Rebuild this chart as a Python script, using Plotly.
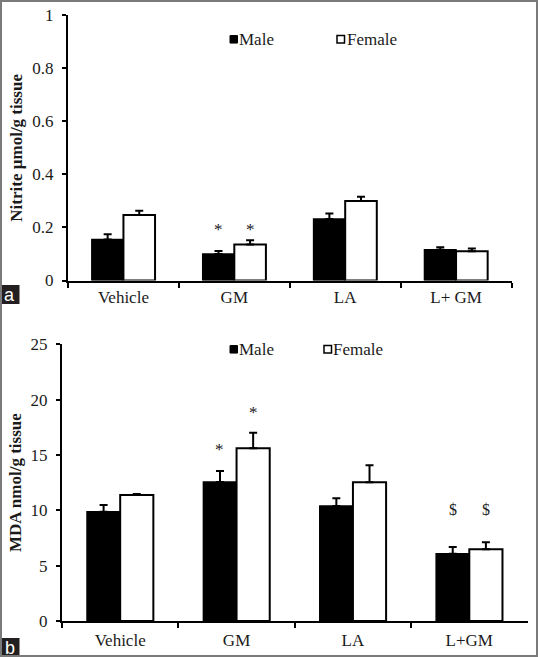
import plotly.graph_objects as go

W, H = 538, 657

# ---------------- data ----------------
categories_a = ["Vehicle", "GM", "LA", "L+ GM"]
categories_b = ["Vehicle", "GM", "LA", "L+GM"]

nitrite_male = [0.155, 0.100, 0.232, 0.116]
nitrite_male_err = [0.019, 0.011, 0.021, 0.009]
nitrite_female = [0.247, 0.136, 0.300, 0.110]
nitrite_female_err = [0.016, 0.016, 0.016, 0.011]

mda_male = [9.87, 12.56, 10.39, 6.08]
mda_male_err = [0.60, 1.00, 0.70, 0.60]
mda_female = [11.38, 15.60, 12.53, 6.48]
mda_female_err = [0.10, 1.40, 1.54, 0.63]

# significance marks and the heights at which they are printed
sig_a_male = ["", "*", "", ""]
sig_a_female = ["", "*", "", ""]
sig_a_male_y = [None, 0.203, None, None]
sig_a_female_y = [None, 0.203, None, None]

sig_b_male = ["", "*", "", "$"]
sig_b_female = ["", "*", "", "$"]
sig_b_male_y = [None, 15.8, None, 10.05]
sig_b_female_y = [None, 19.1, None, 10.05]

y_ticks_a = [0, 0.2, 0.4, 0.6, 0.8, 1]
y_ticks_b = [0, 5, 10, 15, 20, 25]

# ---------------- layout helpers ----------------
def px(x):
    return x / W


def py(y):
    return 1 - y / H


SERIF = "Liberation Serif"
TXT = "#1a1a1a"
BARGAP = 0.43

fig = go.Figure()


def add_bars(cats, male, male_err, female, female_err, xa, ya):
    fig.add_trace(go.Bar(
        x=cats, y=male, name="Male", xaxis=xa, yaxis=ya, showlegend=False,
        marker=dict(color="black", line=dict(color="black", width=1.5)),
        error_y=dict(type="data", array=male_err, arrayminus=[0] * len(male),
                     symmetric=False, color="black", thickness=2, width=4),
    ))
    fig.add_trace(go.Bar(
        x=cats, y=female, name="Female", xaxis=xa, yaxis=ya, showlegend=False,
        marker=dict(color="white", line=dict(color="black", width=2)),
        error_y=dict(type="data", array=female_err, arrayminus=[0] * len(female),
                     symmetric=False, color="black", thickness=2, width=4),
    ))


add_bars(categories_a, nitrite_male, nitrite_male_err,
         nitrite_female, nitrite_female_err, "x", "y")
add_bars(categories_b, mda_male, mda_male_err,
         mda_female, mda_female_err, "x2", "y2")

# domains (pixel based)
xa_dom = [px(68), px(511.5)]
ya_dom = [py(280.5), py(15.2)]
xb_dom = [px(62), px(527.5)]
yb_dom = [py(621), py(344.3)]

axis_common = dict(showline=True, linecolor="black", linewidth=2,
                   ticks="outside", tickcolor="black", tickwidth=2,
                   showgrid=False, zeroline=False, automargin=False,
                   tickfont=dict(family=SERIF, size=17, color=TXT))

fig.update_layout(
    template="none",
    width=W, height=H,
    margin=dict(l=0, r=0, t=0, b=0, pad=0),
    paper_bgcolor="white", plot_bgcolor="white",
    barmode="group", bargap=BARGAP, bargroupgap=0,
    showlegend=False,
    xaxis=dict(domain=xa_dom, anchor="y", tickson="boundaries", ticklen=5,
               type="category", ticklabelstandoff=0, **axis_common),
    yaxis=dict(domain=ya_dom, anchor="x", range=[0, 1], tickvals=y_ticks_a,
               ticklen=4, ticklabelstandoff=5,
               title=dict(text="<b>Nitrite µmol/g tissue</b>", standoff=5,
                          font=dict(family=SERIF, size=17, color=TXT)),
               **axis_common),
    xaxis2=dict(domain=xb_dom, anchor="y2", tickson="boundaries", ticklen=5,
                type="category", ticklabelstandoff=3, **axis_common),
    yaxis2=dict(domain=yb_dom, anchor="x2", range=[0, 25], tickvals=y_ticks_b,
                ticklen=4, ticklabelstandoff=5,
                title=dict(text="<b>MDA nmol/g tissue</b>", standoff=5,
                           font=dict(family=SERIF, size=17, color=TXT)),
                **axis_common),
)

annotations = []
shapes = []


def add_sig(cats, labels, ys, xref, yref, shift):
    for c, lab, yv in zip(cats, labels, ys):
        if lab and yv is not None:
            annotations.append(dict(
                x=c, y=yv, xref=xref, yref=yref, text=lab, showarrow=False,
                xshift=shift, yshift=-3 if lab == "*" else 0,
                font=dict(family=SERIF, size=17 if lab == "*" else 16, color=TXT),
                xanchor="center", yanchor="middle"))


bw_a = (xa_dom[1] - xa_dom[0]) * W / 4 * (1 - BARGAP) / 2
bw_b = (xb_dom[1] - xb_dom[0]) * W / 4 * (1 - BARGAP) / 2
add_sig(categories_a, sig_a_male, sig_a_male_y, "x", "y", -bw_a / 2)
add_sig(categories_a, sig_a_female, sig_a_female_y, "x", "y", bw_a / 2)
add_sig(categories_b, sig_b_male, sig_b_male_y, "x2", "y2", -bw_b / 2)
add_sig(categories_b, sig_b_female, sig_b_female_y, "x2", "y2", bw_b / 2)


# legends (key squares + text) for both panels
def add_legend(yc, male_sq_x, male_txt_x, fem_sq_x, fem_txt_x):
    s = 7.5
    shapes.append(dict(type="rect", xref="paper", yref="paper",
                       x0=px(male_sq_x), x1=px(male_sq_x + s),
                       y0=py(yc + s / 2), y1=py(yc - s / 2),
                       fillcolor="black", line=dict(color="black", width=1)))
    shapes.append(dict(type="rect", xref="paper", yref="paper",
                       x0=px(fem_sq_x), x1=px(fem_sq_x + s),
                       y0=py(yc + s / 2), y1=py(yc - s / 2),
                       fillcolor="white", line=dict(color="black", width=1.5)))
    annotations.append(dict(x=px(male_txt_x), y=py(yc), xref="paper", yref="paper",
                            text="Male", showarrow=False, xanchor="left",
                            yanchor="middle",
                            font=dict(family=SERIF, size=17, color=TXT)))
    annotations.append(dict(x=px(fem_txt_x), y=py(yc), xref="paper", yref="paper",
                            text="Female", showarrow=False, xanchor="left",
                            yanchor="middle",
                            font=dict(family=SERIF, size=17, color=TXT)))


add_legend(39.3, 230, 237, 337, 345)
add_legend(349.3, 230, 237, 324, 331)

# panel letters
for letter, top in (("a", 285), ("b", 638)):
    shapes.append(dict(type="rect", xref="paper", yref="paper",
                       x0=0, x1=px(19.5), y0=py(top + 19), y1=py(top),
                       fillcolor="#231f20", line=dict(width=0)))
    annotations.append(dict(x=px(9.75), y=py(top + 9.5), xref="paper", yref="paper",
                            text=letter, showarrow=False, xanchor="center",
                            yanchor="middle",
                            font=dict(family="Liberation Sans", size=18,
                                      color="white")))

# outer frame
shapes.append(dict(type="rect", xref="paper", yref="paper",
                   x0=px(1), x1=px(W - 1), y0=py(H - 1), y1=py(1),
                   line=dict(color="#7a7a7a", width=2), fillcolor="rgba(0,0,0,0)",
                   layer="above"))

fig.update_layout(annotations=annotations, shapes=shapes)

# remove the default page margin so the figure sits at the window origin
page_css = ("document.body.style.margin='0';"
            "document.body.style.padding='0';"
            "document.documentElement.style.overflow='hidden';"
            "document.body.style.overflow='hidden';")
fig.write_html("out.html", post_script=page_css,
               config={"displayModeBar": False, "staticPlot": True})
